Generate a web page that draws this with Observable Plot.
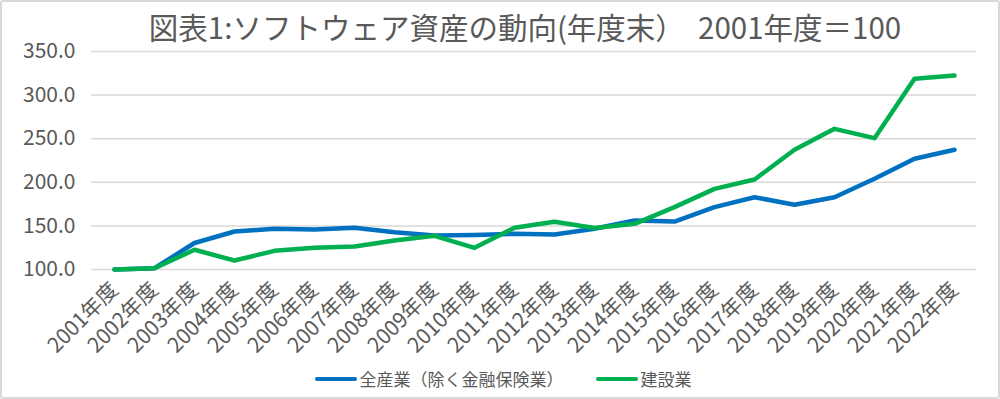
<!DOCTYPE html>
<html><head><meta charset="utf-8">
<script src="https://cdn.jsdelivr.net/npm/d3@7"></script>
<script src="https://cdn.jsdelivr.net/npm/@observablehq/plot@0.6"></script>
<style>
body{margin:0;background:#fff;}
#wrap{position:relative;width:1000px;height:399px;overflow:hidden;font-family:"Noto Sans CJK JP","Noto Sans",sans-serif;color:#595959;background:#fff;}
#frame{position:absolute;left:0;top:0;width:1000px;height:399px;box-sizing:border-box;border:2px solid #d9d9d9;border-radius:3px;pointer-events:none;}
#title{height:45px;line-height:52px;font-size:29.5px;text-align:center;padding-left:50px;white-space:pre;}
#chart svg{display:block;}
#legend{height:39px;display:flex;justify-content:center;align-items:center;font-size:17px;padding-left:6px;padding-bottom:2px;box-sizing:border-box;}
.item{display:flex;align-items:center;margin:0 16px;}
.sw{width:42px;height:4px;margin-right:3px;border-radius:2px;}
</style>
</head><body>
<div id="wrap">
<div id="title"></div>
<div id="chart"></div>
<div id="legend"></div>
<div id="frame"></div>
</div>
<script>
const titleText = "図表1:ソフトウェア資産の動向(年度末）  2001年度＝100";
const years = ["2001年度","2002年度","2003年度","2004年度","2005年度","2006年度","2007年度","2008年度","2009年度","2010年度","2011年度","2012年度","2013年度","2014年度","2015年度","2016年度","2017年度","2018年度","2019年度","2020年度","2021年度","2022年度"];
const seriesNames = ["全産業（除く金融保険業）","建設業"];
const seriesColors = ["#0070C0","#00B050"];
const allIndustry = [100,101.5,130.4,143.6,146.7,145.9,147.8,142.8,139.0,139.7,140.9,140.1,146.7,156.2,155.0,171.5,182.9,174.2,182.9,204.0,227.0,237.3];
const construction = [100,101.5,122.6,110.3,121.4,124.9,126.4,133.3,138.6,124.9,147.8,154.8,147.5,152.4,171.5,192.5,203.2,237.3,261.3,250.6,318.7,322.5];
const yTicks = [100,150,200,250,300,350];

document.getElementById("title").textContent = titleText;

const data = [];
[allIndustry, construction].forEach((vals, s) => {
  years.forEach((y, i) => data.push({year: y, value: vals[i], series: seriesNames[s]}));
});

const chart = Plot.plot({
  width: 1000, height: 315,
  marginTop: 6, marginBottom: 91, marginLeft: 91, marginRight: 24,
  style: {fontFamily: '"Noto Sans CJK JP","Noto Sans",sans-serif', color: "#595959", background: "transparent", overflow: "visible"},
  x: {type: "point", domain: years, padding: 0.5, label: null},
  y: {domain: [100, 350], label: null},
  color: {domain: seriesNames, range: seriesColors},
  marks: [
    Plot.gridY(yTicks, {stroke: "#d9d9d9", strokeOpacity: 1, strokeWidth: 1.5}),
    Plot.axisY(yTicks, {tickFormat: d => d.toFixed(1), tickSize: 0, tickPadding: 16, fontSize: 21, fill: "#595959"}),
    Plot.axisX({tickRotate: -45, tickSize: 0, tickPadding: 17, fontSize: 21, fill: "#595959"}),
    Plot.line(data, {x: "year", y: "value", z: "series", stroke: "series", strokeWidth: 4.5, strokeLinejoin: "round", strokeLinecap: "round"})
  ]
});
document.getElementById("chart").appendChild(chart);

const legend = document.getElementById("legend");
seriesNames.forEach((n, i) => {
  const it = document.createElement("div");
  it.className = "item";
  const sw = document.createElement("div");
  sw.className = "sw";
  sw.style.background = seriesColors[i];
  const t = document.createElement("span");
  t.textContent = n;
  it.appendChild(sw); it.appendChild(t);
  legend.appendChild(it);
});
</script>
</body></html>
